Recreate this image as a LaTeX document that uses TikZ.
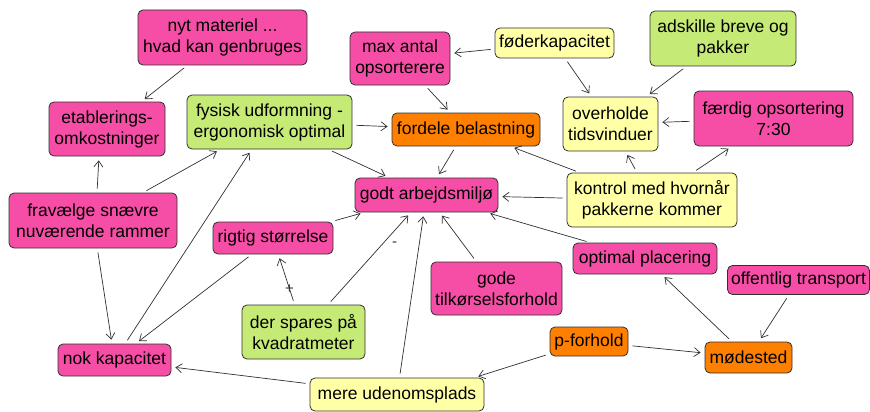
\documentclass[tikz,border=0pt]{standalone}
\usepackage{fontspec}
\setmainfont{Liberation Sans}
\usetikzlibrary{arrows.meta}
\definecolor{cpink}{HTML}{F64EA6}
\definecolor{cgreen}{HTML}{C6EA76}
\definecolor{cyellow}{HTML}{FFFFA6}
\definecolor{corange}{HTML}{FF8000}
\definecolor{cline}{HTML}{303030}
\begin{document}
\begin{tikzpicture}[x=1pt,y=-1pt,
  box/.style={draw=cline, line width=0.8pt, rounded corners=5pt, align=center,
    inner sep=0pt, font=\fontsize{17.5}{21}\selectfont},
  sz/.style 2 args={minimum width=#1pt, minimum height=#2pt},
  pinkbox/.style={box, fill=cpink},
  greenbox/.style={box, fill=cgreen},
  yellowbox/.style={box, fill=cyellow},
  orangebox/.style={box, fill=corange},
  link/.style={draw=cline, line width=0.7pt, -{Straight Barb[length=6pt,width=9pt]},
    shorten >=4pt, shorten <=4pt},
  sign/.style={font=\fontsize{15}{15}\selectfont, inner sep=0pt, text=cline}
]
\useasboundingbox (0,0) rectangle (870,412);

% concept boxes
\node[pinkbox, sz={169}{55}]   (nyt)  at (222.5,37.5) {nyt materiel ...\\hvad kan genbruges};
\node[pinkbox, sz={100}{53}]   (max)  at (400,58.5)   {max antal\\opsorterere};
\node[yellowbox, sz={119}{30}] (foed) at (554.5,43)   {føderkapacitet};
\node[greenbox, sz={146}{55}]  (adsk) at (723,38.5)   {adskille breve og\\pakker};
\node[yellowbox, sz={95}{54}]  (over) at (610.5,124)  {overholde\\tidsvinduer};
\node[pinkbox, sz={159}{55}]   (faer) at (773.5,118.5){færdig opsortering\\7:30};
\node[pinkbox, sz={116}{54}]   (etab) at (107,129)    {etablerings-\\omkostninger};
\node[greenbox, sz={165}{54}]  (fys)  at (269.5,122)  {fysisk udformning -\\ergonomisk optimal};
\node[orangebox, sz={148}{33}] (ford) at (466,129.5)  {fordele belastning};
\node[pinkbox, sz={143}{34}]   (godt) at (426.5,195)  {godt arbejdsmiljø};
\node[yellowbox, sz={170}{54}] (kont) at (652,200)    {kontrol med hvornår\\pakkerne kommer};
\node[pinkbox, sz={168}{55}]   (frav) at (93,220.5)   {fravælge snævre\\nuværende rammer};
\node[pinkbox, sz={120}{32}]   (rig)  at (273,238)    {rigtig størrelse};
\node[pinkbox, sz={144}{31}]   (opt)  at (645,258.5)  {optimal placering};
\node[pinkbox, sz={131}{53}]   (gode) at (496.5,288.5){gode\\tilkørselsforhold};
\node[pinkbox, sz={142}{29}]   (off)  at (798.5,280)  {offentlig transport};
\node[greenbox, sz={123}{54}]  (der)  at (303.5,332)  {der spares på\\kvadratmeter};
\node[pinkbox, sz={113}{32}]   (nok)  at (114.5,360)  {nok kapacitet};
\node[orangebox, sz={78}{29}]  (pf)   at (589,341.5)  {p-forhold};
\node[orangebox, sz={87}{31}]  (mod)  at (748.5,357.5){mødested};
\node[yellowbox, sz={174}{33}] (mere) at (397,394.5)  {mere udenomsplads};

% connectors
\draw[link] (nyt) -- (etab);
\draw[link] ([xshift=4pt]frav.north) -- ([xshift=-8pt]etab.south);
\draw[link] (frav) -- (fys);
\draw[link] (frav) -- (nok);
\draw[link] (nok) -- (fys);
\draw[link] (rig) -- (nok);
\draw[link] (rig) -- (godt);
\draw[link] (fys) -- (ford);
\draw[link] (fys) -- (godt);
\draw[link] (max) -- (ford);
\draw[link] (foed) -- (max);
\draw[link] (foed) -- (over);
\draw[link] (adsk) -- (over);
\draw[link] (faer) -- (over);
\draw[link] (kont) -- (over);
\draw[link] (kont) -- (faer);
\draw[link] (kont) -- (ford);
\draw[link] (kont) -- (godt);
\draw[link] (ford) -- (godt);
\draw[link] (opt) -- (godt);
\draw[link] (gode) -- (godt);
\draw[link] (der) -- node[sign, pos=0.31] {+} (rig);
\draw[link] (der) -- node[sign, pos=0.66, right=9pt] {-} (godt);
\draw[link] (mere) -- (nok);
\draw[link] (mere) -- (godt);
\draw[link] (pf) -- ([xshift=-10pt]mere.north east);
\draw[link] (pf) -- (mod);
\draw[link] (mod) -- (opt);
\draw[link] (off) -- (mod);
\end{tikzpicture}
\end{document}
